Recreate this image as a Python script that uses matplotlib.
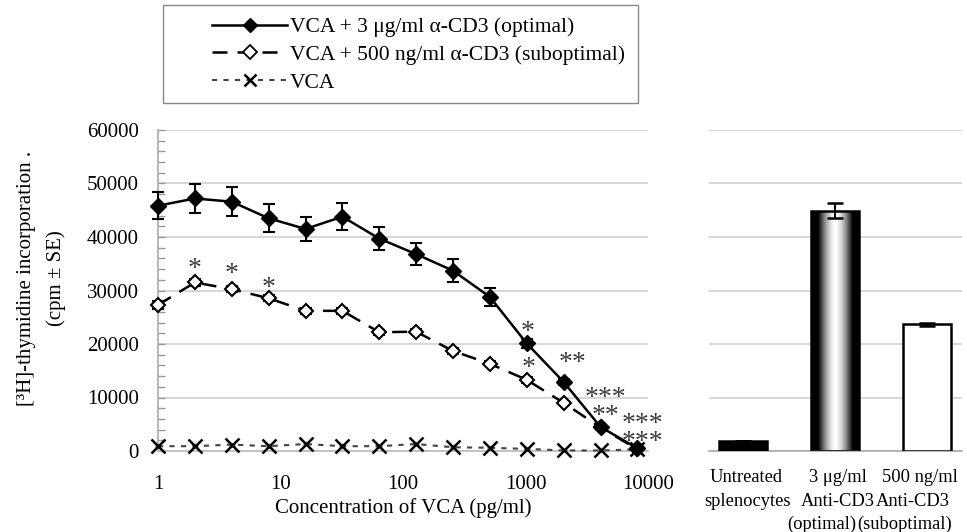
import numpy as np
import matplotlib
matplotlib.use("Agg")
import matplotlib.pyplot as plt
from matplotlib.lines import Line2D
from matplotlib.patches import Rectangle
import matplotlib.transforms as mtransforms

plt.rcParams['font.family'] = ['Liberation Serif', 'DejaVu Serif']

# ---------------- data ----------------
conc = [1, 2, 4, 8, 16, 32, 64, 128, 256, 512, 1024, 2048, 4096, 8192]
optimal = [45850, 47200, 46600, 43500, 41500, 43800, 39700, 36800, 33700, 28800, 20100, 12900, 4500, 500]
optimal_se = [2550, 2700, 2700, 2600, 2300, 2500, 2200, 2100, 2100, 1700, 900, 600, 400, 200]
subopt = [27300, 31500, 30250, 28550, 26200, 26200, 22200, 22300, 18700, 16300, 13300, 9000, 4400, 300]
subopt_se = [700, 700, 600, 600, 500, 500, 500, 500, 500, 500, 500, 400, 300, 200]
vca = [900, 900, 1200, 900, 1300, 900, 900, 1300, 700, 600, 400, 100, 100, 300]
vca_se = [200, 200, 200, 200, 200, 200, 200, 200, 200, 200, 150, 100, 100, 100]

legend_labels = ["VCA + 3 \u03bcg/ml \u03b1-CD3 (optimal)",
                 "VCA + 500 ng/ml \u03b1-CD3 (suboptimal)",
                 "VCA"]

# significance annotations: (x, y, text)
stars_x = [2, 4, 8, 1040, 1050, 2430, 4500, 9060]
stars_y = [34000, 33000, 30400, 22100, 15400, 16300, 8200, 3200]
stars_t = ["*", "*", "*", "*", "*", "**", "***\n**", "***\n***"]

bar_labels = [["Untreated", "splenocytes"],
              ["3 \u03bcg/ml", "Anti-CD3", "(optimal)"],
              ["500 ng/ml", "Anti-CD3", "(suboptimal)"]]
bar_values = [1800, 44900, 23700]
bar_se = [0, 1400, 300]

y_ticks = [0, 10000, 20000, 30000, 40000, 50000, 60000]
x_ticks = [1, 10, 100, 1000, 10000]
x_ticklabels = ["1", "10", "100", "1000", "10000"]

# ---------------- figure ----------------
W, H = 967, 532
fig = plt.figure(figsize=(W / 100, H / 100), dpi=100)
ax = fig.add_axes([158 / W, 1 - 451 / H, (648 - 158) / W, (451 - 130) / H])
ax2 = fig.add_axes([709 / W, 1 - 451 / H, (962 - 709) / W, (451 - 130) / H])

grid_c = '#cfcfcf'
fs = 15

# left panel
ax.set_xscale('log')
ax.set_xlim(1, 10000)
ax.set_ylim(0, 60000)
ax.set_yticks(y_ticks)
ax.set_yticks(np.arange(0, 60001, 2000), minor=True)
ax.set_xticks(x_ticks)
ax.set_xticklabels(x_ticklabels)
ax.xaxis.set_minor_locator(matplotlib.ticker.NullLocator())
ax.tick_params(axis='y', which='both', direction='in', labelsize=fs, pad=14,
               color='#999999', length=5, width=1)
ax.tick_params(axis='x', which='both', length=0, labelsize=fs, pad=17)
ax.grid(axis='y', which='major', color=grid_c, lw=1.2)
ax.set_axisbelow(True)
for s in ['top', 'right']:
    ax.spines[s].set_visible(False)
ax.spines['left'].set_color('#aaaaaa')
ax.spines['bottom'].set_color('#bbbbbb')
ax.spines['left'].set_linewidth(1.2)
ax.spines['bottom'].set_linewidth(1.2)

l3 = ax.errorbar(conc, vca, yerr=vca_se, color='#444444', lw=1.5, ls=(0, (2.5, 3)),
                 marker='x', ms=10, mew=1.8, mec='black', ecolor='#888888',
                 elinewidth=0.8, capsize=2, zorder=3, clip_on=False)
l2 = ax.errorbar(conc, subopt, yerr=subopt_se, color='black', lw=1.8, ls=(0, (6, 4)),
                 marker='D', ms=7, mfc='white', mec='black', mew=1.5,
                 ecolor='black', elinewidth=1.5, capsize=4.5, capthick=1.5, zorder=4, clip_on=False)
l1 = ax.errorbar(conc, optimal, yerr=optimal_se, color='black', lw=1.8,
                 marker='D', ms=8, mfc='black', mec='black',
                 ecolor='black', elinewidth=1.5, capsize=4.5, capthick=1.5, zorder=5, clip_on=False)

for x, y, t in zip(stars_x, stars_y, stars_t):
    ax.text(x, y, t, ha='center', va='center', fontsize=20, color='#3a3a3a', zorder=6,
            linespacing=0.62, multialignment='center')

ax.set_xlabel("Concentration of VCA (pg/ml)", fontsize=fs, labelpad=3)
fig.text(0.043, 1 - 278 / H, "[\u00b3H]-thymidine incorporation .\n(cpm \u00b1 SE)",
         rotation=90, ha='center', va='center', fontsize=fs, multialignment='center',
         linespacing=1.7)

# legend
h1 = Line2D([], [], color='black', lw=1.8, marker='D', ms=7, mfc='black')
h2 = Line2D([], [], color='black', lw=1.8, ls=(0, (6, 4)), marker='D', ms=7, mfc='white', mew=1.3)
h3 = Line2D([], [], color='#444444', lw=1.5, ls=(0, (2.5, 3)), marker='x', ms=9, mew=1.8, mec='black')
fig.legend([h1, h2, h3], legend_labels, loc='upper left',
           bbox_to_anchor=(197 / W, 1 - 2 / H), frameon=False, fontsize=15.5,
           handlelength=3.5, handletextpad=0.1, labelspacing=0.36, borderpad=0.2)
fig.patches.append(Rectangle((163 / W, 1 - 103 / H), (638 - 163) / W, (103 - 5) / H,
                             transform=fig.transFigure, fill=False, edgecolor='#888888', lw=1))

# right panel
xpos = np.arange(len(bar_values))
bw = 0.53
ax2.set_xlim(-0.37, 2.38)
ax2.set_ylim(0, 60000)
ax2.set_yticks(y_ticks)
ax2.tick_params(axis='y', length=0, labelleft=False)
ax2.set_xticks(xpos)
ax2.set_xticklabels([])
ax2.tick_params(axis='x', length=0)
ax2.grid(axis='y', color=grid_c, lw=1.2)
ax2.set_axisbelow(True)
for s in ['top', 'right', 'left']:
    ax2.spines[s].set_visible(False)
ax2.spines['bottom'].set_color('#aaaaaa')
ax2.spines['bottom'].set_linewidth(1.2)

# category labels (Excel-style wrapped, lines squeezed together)
line_dx = [[3, 4], [3, 3, -13], [-7, -14, -22]]   # pixel offsets of each line
bt = mtransforms.blended_transform_factory(ax2.transData, ax2.transAxes)
for i, lines in enumerate(bar_labels):
    for j, txt in enumerate(lines):
        off = mtransforms.ScaledTranslation(line_dx[i][j] / 100, -(27 + 23 * j) / 100,
                                            fig.dpi_scale_trans)
        ax2.text(xpos[i], 0, txt, transform=bt + off, ha='center', va='center',
                 fontsize=13.3, clip_on=False)

bars = ax2.bar(xpos, bar_values, width=bw, color=['black', 'none', 'white'],
               edgecolor='black', linewidth=1.8, zorder=3)
# cylinder-like gradient in the middle bar
b = bars[1]
t = np.linspace(-1, 1, 300)
prof = np.clip(1 - (np.abs(t) / 0.7) ** 1.6, 0, 1)
im = ax2.imshow(prof[None, :], cmap='gray', vmin=0, vmax=1, aspect='auto',
                extent=[b.get_x(), b.get_x() + b.get_width(), 0, b.get_height()], zorder=2.5)
im.set_clip_path(b)
ax2.set_xlim(-0.37, 2.38)
ax2.set_ylim(0, 60000)
ax2.errorbar(xpos, bar_values, yerr=bar_se, fmt='none', ecolor='black',
             elinewidth=1.5, capsize=6, capthick=1.8, zorder=4)

fig.savefig("out.png", dpi=100)
